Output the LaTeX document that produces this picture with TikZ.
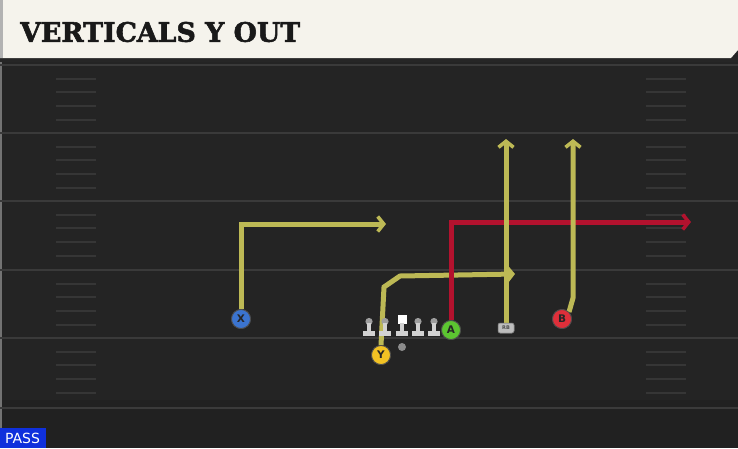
\documentclass[tikz,border=0pt]{standalone}
\usepackage{fontspec}
\setsansfont{DejaVu Sans}
\newfontfamily\titlefont{DejaVu Serif}[BoldFeatures={FakeBold=2}]
\usetikzlibrary{arrows.meta}

\definecolor{fieldgray}{HTML}{242424}
\definecolor{yardline}{HTML}{3A3A3A}
\definecolor{hashgray}{HTML}{363636}
\definecolor{paper}{HTML}{F5F3EC}
\definecolor{routeyellow}{HTML}{BDB955}
\definecolor{routered}{HTML}{B3122E}
\definecolor{xblue}{HTML}{3B74CF}
\definecolor{yyellow}{HTML}{F2C224}
\definecolor{agreen}{HTML}{5CC531}
\definecolor{bred}{HTML}{DE2F3A}
\definecolor{passblue}{HTML}{0F30DC}
\definecolor{lineman}{HTML}{D2D2D2}

\begin{document}
\begin{tikzpicture}[x=1pt,y=-1pt,
    player/.style={circle, minimum size=19pt, inner sep=0pt, draw=black!70, line width=0.8pt,
                   font=\sffamily\bfseries\fontsize{10.5}{10.5}\selectfont, text=black!85},
    rbtag/.style={fill=lineman!90!black, draw=black!60, line width=0.5pt, rounded corners=2pt,
                  minimum width=16pt, minimum height=10pt, inner sep=0pt,
                  font=\sffamily\bfseries\fontsize{5}{5}\selectfont, text=black!70},
    route/.style={line width=5pt, color=routeyellow, line cap=butt, line join=miter,
                  -{Straight Barb[length=6pt,width=15pt,line width=3.6pt]}},
    redroute/.style={route, color=routered}]
    \useasboundingbox (0,0) rectangle (738,448);

    % Field background
    \fill[fieldgray] (0,0) rectangle (738,448);
    \fill[black!90, opacity=0.25] (0,400) rectangle (738,448);
    \draw[black!55, line width=1.5pt] (1,60) -- (1,448);

    % Yard lines and hash marks
    \foreach \yl in {65,133,201,270,338,408}
        \draw[yardline, line width=2pt] (0,\yl) -- (738,\yl);
    \foreach \yl in {65,133,201,270,338}
        \foreach \d in {14,27,41,55} {
            \draw[hashgray, line width=1.5pt] (56,\yl+\d) -- (96,\yl+\d);
            \draw[hashgray, line width=1.5pt] (646,\yl+\d) -- (686,\yl+\d);
        }

    % Title band
    \fill[black!85] (0,57) rectangle (738,62);
    \fill[paper] (0,0) -- (738,0) -- (738,50) -- (731,58) -- (0,58) -- cycle;
    \fill[black!30] (0,0) rectangle (3,58);
    \node[anchor=west, inner sep=0pt, text=black!90] (title) at (20,32)
        {\resizebox{280pt}{!}{\titlefont\bfseries\fontsize{27}{27}\selectfont VERTICALS Y OUT}};

    % Free ends of the routes
    \coordinate (xbreak) at (241,224);
    \coordinate (xend) at (386,224);
    \coordinate (ybreak1) at (384,287);
    \coordinate (ybreak2) at (400,276);
    \coordinate (yend) at (515,274);
    \coordinate (rbend) at (506,139);
    \coordinate (bbreak) at (573,298);
    \coordinate (bend) at (573,139);
    \coordinate (aend) at (691,222);

    % Players (placed before routes so routes can use their names)
    \node[player, fill=xblue] (X) at (241,319) {X};
    \node[player, fill=yyellow] (Y) at (381,355) {Y};
    \node[player, fill=agreen] (A) at (451,330) {A};
    \node[player, fill=bred] (B) at (562,319) {B};
    \node[rbtag] (RB) at (506,328) {RB};

    % Routes
    \draw[route] (X.north) -- (xbreak) -- (xend);
    \draw[route] (Y.north) -- (ybreak1) -- (ybreak2) -- (yend);
    \draw[redroute] (A.north) |- (aend);
    \draw[route] (RB.north) -- (rbend);
    \draw[route] (B.north east) -- (bbreak) -- (bend);

    % Redraw players on top of the routes
    \node[player, fill=xblue] at (X) {X};
    \node[player, fill=yyellow] at (Y) {Y};
    \node[player, fill=agreen] at (A) {A};
    \node[player, fill=bred] at (B) {B};
    \node[rbtag] at (RB) {RB};

    % Offensive line
    \foreach \lx in {369,385,418,434} {
        \fill[lineman!75!black] (\lx,321.5) circle (3.6);
        \fill[lineman] (\lx-1.8,323) rectangle (\lx+1.8,333);
        \fill[lineman] (\lx-6,331) rectangle (\lx+6,336);
    }
    \fill[white] (397.5,314.5) rectangle (406.5,324);
    \fill[lineman] (400.2,323) rectangle (403.8,333);
    \fill[lineman] (396,331) rectangle (408,336);

    % Ball
    \node[circle, fill=black!45, minimum size=8pt, inner sep=0pt] (ball) at (402,347) {};

    % Play type tag
    \fill[passblue] (0,428) rectangle (46,448);
    \node[text=white, font=\sffamily\fontsize{14}{14}\selectfont, inner sep=0pt] (pass) at (22.5,438.5) {PASS};
\end{tikzpicture}
\end{document}
